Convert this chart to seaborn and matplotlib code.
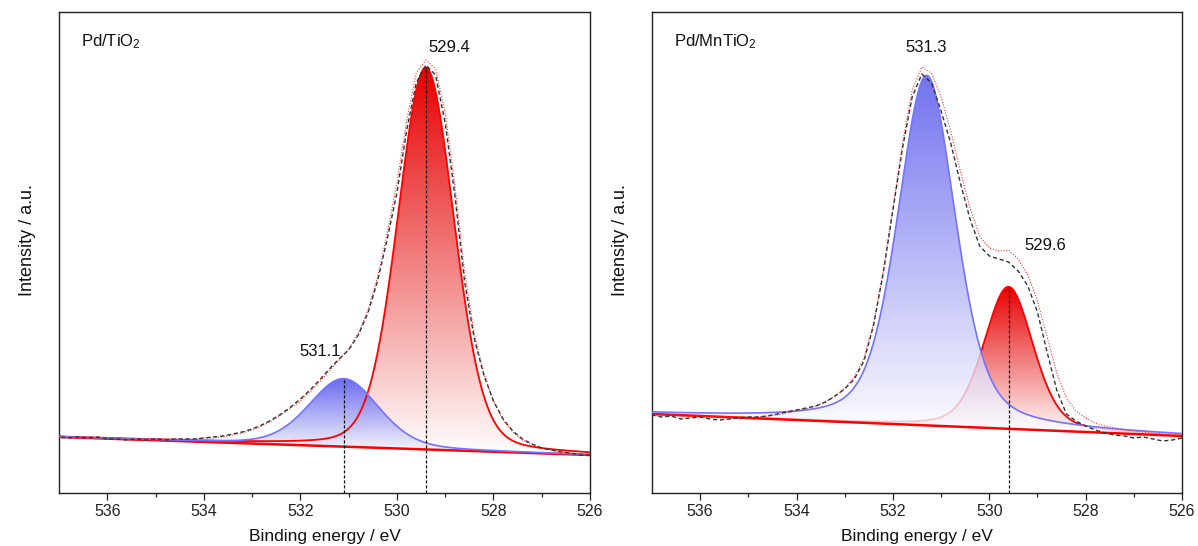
import numpy as np
import pandas as pd
import matplotlib
matplotlib.use("Agg")
import matplotlib.pyplot as plt
from matplotlib.colors import LinearSegmentedColormap
import seaborn as sns

# ---------------------------------------------------------------------------
# O 1s spectra, binding energy 537.0 -> 526.0 eV in 0.2 eV steps (arb. units)
# ---------------------------------------------------------------------------
energy = np.linspace(537.0, 526.0, 56)

measured_tio2 = [
    56, 55, 56, 55, 56, 54, 54, 53,
    54, 53, 54, 53, 54, 54, 54, 55,
    56, 57, 59, 61, 64, 68, 73, 79,
    86, 94, 103, 113, 124, 134, 143, 158,
    180, 212, 254, 300, 362, 410, 428, 418,
    370, 298, 212, 155, 118, 92, 74, 62,
    54, 49, 45, 43, 41, 40, 38, 38,
]
envelope_tio2 = [
    56, 56, 55, 55, 55, 55, 54, 54,
    54, 54, 54, 54, 54, 54, 54, 55,
    55, 56, 58, 60, 63, 67, 72, 78,
    85, 92, 101, 111, 122, 133, 144, 160,
    183, 216, 260, 310, 372, 420, 433, 424,
    380, 308, 222, 160, 120, 92, 73, 61,
    53, 48, 45, 43, 41, 40, 39, 38,
]
measured_mntio2 = [
    78, 76, 77, 74, 75, 76, 74, 73,
    74, 75, 76, 76, 77, 79, 81, 83,
    85, 87, 91, 97, 104, 114, 132, 168,
    220, 283, 345, 396, 419, 410, 382, 350,
    310, 274, 247, 237, 234, 231, 222, 207,
    181, 141, 103, 79, 72, 67, 63, 60,
    58, 57, 55, 56, 54, 52, 53, 55,
]
envelope_mntio2 = [
    79, 78, 78, 77, 77, 77, 76, 76,
    76, 76, 75, 76, 77, 78, 80, 82,
    84, 87, 91, 97, 105, 116, 135, 170,
    222, 285, 350, 403, 426, 420, 396, 362,
    322, 285, 257, 245, 242, 243, 234, 218,
    192, 156, 120, 95, 82, 75, 70, 67,
    65, 63, 62, 61, 60, 59, 58, 58,
]

# Fitted components: [lattice O (red), surface O (blue)]
centres_tio2 = [529.4, 531.1]
heights_tio2 = [382, 68]
fwhm_tio2 = [1.38, 1.7]
lorentz_tio2 = [0.18, 0.25]
background_tio2 = [56, 38]          # linear background at 537 and 526 eV

centres_mntio2 = [529.6, 531.3]
heights_mntio2 = [142, 350]
fwhm_mntio2 = [1.2, 1.42]
lorentz_mntio2 = [0.3, 0.4]
background_mntio2 = [79, 57]

sample_names = ["Pd/TiO$_2$", "Pd/MnTiO$_2$"]
x_ticks = [536, 534, 532, 530, 528, 526]

# ---------------------------------------------------------------------------
sns.set_theme(style="white")
plt.rcParams["font.family"] = ["Liberation Sans", "DejaVu Sans"]
plt.rcParams["mathtext.fontset"] = "custom"
plt.rcParams["mathtext.rm"] = "Liberation Sans"
plt.rcParams["mathtext.it"] = "Liberation Sans:italic"
plt.rcParams["mathtext.default"] = "regular"

RED_LINE, RED_FILL = "#ff0000", "#e60000"
BLUE_LINE, BLUE_FILL = "#7373ff", "#4f4fec"

XMIN, XMAX = 526.0, 537.0
YMAX = 481.0


def pseudo_voigt(x, centre, height, fwhm, mix):
    d = (x - centre) / (fwhm / 2.0)
    return height * ((1 - mix) * np.exp(-np.log(2) * d ** 2) + mix / (1 + d ** 2))


def gradient_fill(ax, x, base, top, color, zorder, alpha=1.0):
    poly = ax.fill_between(x, base, top, facecolor="none", edgecolor="none")
    cmap = LinearSegmentedColormap.from_list("grad", ["#ffffff", color])
    grad = np.linspace(0, 1, 256).reshape(-1, 1)
    im = ax.imshow(grad, cmap=cmap, origin="lower", aspect="auto",
                   extent=[x.min(), x.max(), base.min(), top.max()],
                   zorder=zorder, alpha=alpha, interpolation="bilinear")
    im.set_clip_path(poly.get_paths()[0], transform=ax.transData)


def draw_panel(ax, measured, envelope, centres, heights, fwhms, mixes, bg,
               name, marked, label_xy, red_line_z, blue_alpha):
    x = np.linspace(XMAX, XMIN, 800)
    base = bg[0] + (bg[1] - bg[0]) * (XMAX - x) / (XMAX - XMIN)
    red = base + pseudo_voigt(x, centres[0], heights[0], fwhms[0], mixes[0])
    blue = base + pseudo_voigt(x, centres[1], heights[1], fwhms[1], mixes[1])

    gradient_fill(ax, x, base, red, RED_FILL, zorder=1.0)
    gradient_fill(ax, x, base, blue, BLUE_FILL, zorder=1.2, alpha=blue_alpha)

    comp = pd.DataFrame({"x": x, "red": red, "blue": blue, "base": base})
    # linear background
    sns.lineplot(data=comp, x="x", y="base", ax=ax, color=RED_LINE, lw=1.8,
                 zorder=2.3, estimator=None)
    sns.lineplot(data=comp, x="x", y="red", ax=ax, color=RED_LINE, lw=1.3,
                 zorder=red_line_z, estimator=None)
    sns.lineplot(data=comp, x="x", y="blue", ax=ax, color=BLUE_LINE, lw=1.2,
                 zorder=2.6, estimator=None)

    spec = pd.DataFrame({"E": energy, "I": measured, "fit": envelope})
    sns.lineplot(data=spec, x="E", y="fit", ax=ax, color="#ff3030", lw=0.8,
                 zorder=2.8, estimator=None)
    ax.lines[-1].set_dashes([1, 1.5])
    sns.lineplot(data=spec, x="E", y="I", ax=ax, color="#333333", lw=1.0,
                 zorder=3.0, estimator=None)
    ax.lines[-1].set_dashes([3, 2])

    # peak position markers
    for c, h, show, (lx, ly) in zip(centres, heights, marked, label_xy):
        b = bg[0] + (bg[1] - bg[0]) * (XMAX - c) / (XMAX - XMIN)
        if show:
            ax.plot([c, c], [0, b + h], color="#111111", lw=0.9,
                    dashes=[2.5, 1.5], zorder=3.2)
        ax.text(lx, ly, f"{c:.1f}", ha="center", va="center", fontsize=12,
                color="#111111")

    ax.text(0.041, 0.938, name, transform=ax.transAxes, ha="left",
            va="center", fontsize=12, color="#111111")

    ax.set_xlim(XMAX, XMIN)
    ax.set_ylim(0, YMAX)
    ax.set_xticks(x_ticks)
    ax.set_xticks(np.arange(527, 537, 2), minor=True)
    ax.set_xticklabels([str(t) for t in x_ticks])
    ax.set_yticks([])
    ax.tick_params(axis="x", which="major", direction="out", length=5,
                   width=0.9, bottom=True, top=False, labelsize=11.5, pad=3,
                   colors="#222222")
    ax.tick_params(axis="x", which="minor", direction="out", length=3,
                   width=0.9, bottom=True, top=False)
    ax.set_xlabel("Binding energy / eV", fontsize=12.5, color="#111111",
                  labelpad=7)
    ax.set_ylabel("Intensity / a.u.", fontsize=13, color="#111111")
    ax.yaxis.set_label_coords(-0.043, 0.526)
    for sp in ax.spines.values():
        sp.set_visible(True)
        sp.set_color("#222222")
        sp.set_linewidth(1.0)


fig = plt.figure(figsize=(11.98, 5.46), dpi=100)
fig.patch.set_facecolor("white")
ax1 = fig.add_axes([59 / 1198, 1 - 493 / 546, 531 / 1198, 481 / 546])
ax2 = fig.add_axes([652 / 1198, 1 - 493 / 546, 530 / 1198, 481 / 546])

draw_panel(ax1, measured_tio2, envelope_tio2, centres_tio2, heights_tio2,
           fwhm_tio2, lorentz_tio2, background_tio2, sample_names[0],
           marked=[True, True], label_xy=[(528.92, 446), (531.6, 141)],
           red_line_z=2.4, blue_alpha=0.85)
draw_panel(ax2, measured_mntio2, envelope_mntio2, centres_mntio2,
           heights_mntio2, fwhm_mntio2, lorentz_mntio2, background_mntio2,
           sample_names[1], marked=[True, False],
           label_xy=[(528.84, 247), (531.3, 446)],
           red_line_z=1.1, blue_alpha=0.8)

fig.savefig("out.png", dpi=100, facecolor="white")
